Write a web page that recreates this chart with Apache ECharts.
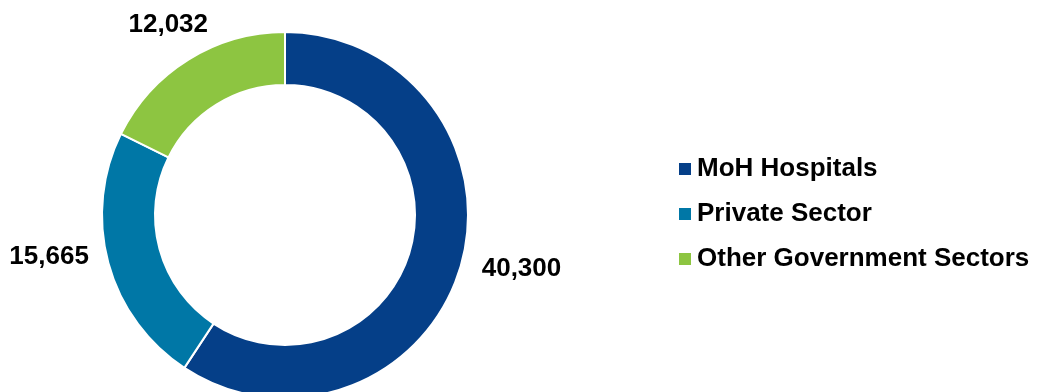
<!DOCTYPE html>
<html>
<head>
<meta charset="utf-8">
<script src="https://cdn.jsdelivr.net/npm/echarts@6/dist/echarts.min.js"></script>
<style>
  html, body { margin: 0; padding: 0; background: #ffffff; }
  #chart { width: 1038px; height: 392px; }
</style>
</head>
<body>
<div id="chart"></div>
<script>
// Workforce by sector
const categories = ['MoH Hospitals', 'Private Sector', 'Other Government Sectors'];
const values = [40300, 15665, 12032];
const colors = ['#053f88', '#0077a6', '#8dc541'];
// label nudges (dx, dy) relative to the default outside placement
const labelNudge = [[3, -3], [-1, -10], [32, -23]];

const fontFamily = '"Liberation Sans", Arial, Helvetica, sans-serif';

const chart = echarts.init(document.getElementById('chart'), null, { renderer: 'canvas' });

chart.setOption({
  backgroundColor: '#ffffff',
  animation: false,
  legend: {
    orient: 'vertical',
    left: 677,
    top: 156,
    padding: 0,
    icon: 'rect',
    itemWidth: 14,
    itemHeight: 14,
    itemGap: 19,
    textStyle: { fontFamily: fontFamily, fontSize: 26, fontWeight: 'bold', color: '#000000', padding: [0, 0, 0, 0] },
    data: categories
  },
  series: [{
    type: 'pie',
    center: [285, 215],
    radius: [130, 183],
    startAngle: 90,
    clockwise: true,
    avoidLabelOverlap: false,
    itemStyle: { borderColor: '#ffffff', borderWidth: 2 },
    label: {
      show: true,
      position: 'outside',
      fontFamily: fontFamily,
      fontSize: 26,
      fontWeight: 'bold',
      color: '#000000',
      formatter: p => p.value.toLocaleString('en-US')
    },
    labelLine: { show: false, length: 14, length2: 0 },
    labelLayout: p => ({ dx: labelNudge[p.dataIndex][0], dy: labelNudge[p.dataIndex][1] }),
    emphasis: { disabled: true },
    data: categories.map((name, i) => ({ name: name, value: values[i], itemStyle: { color: colors[i] } }))
  }]
});
</script>
</body>
</html>
